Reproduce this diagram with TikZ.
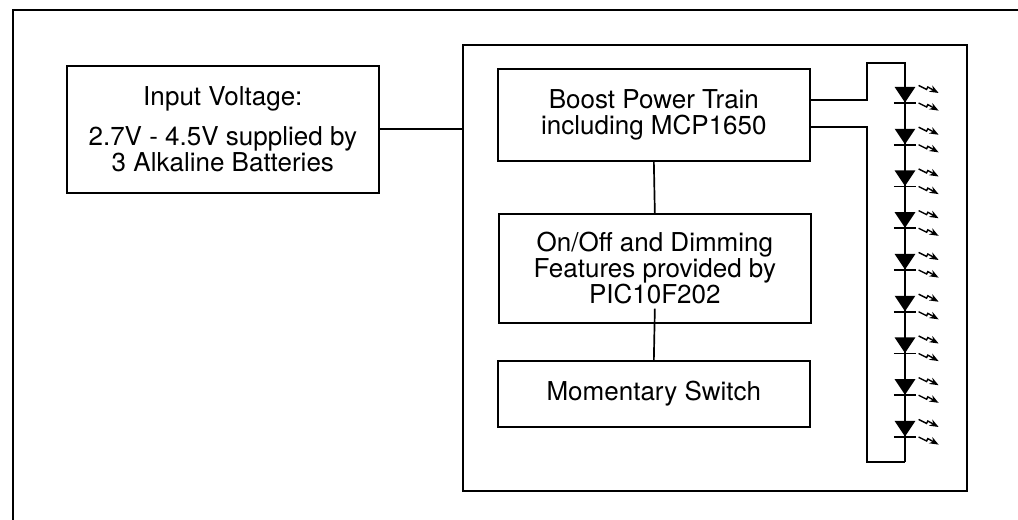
\documentclass[tikz,border=0pt]{standalone}
\usepackage{fontspec}
\setmainfont{TeX Gyre Heros}
\usetikzlibrary{positioning,arrows.meta}

\tikzset{
  block/.style={rectangle, draw, align=center, font=\fontsize{18.5}{18.5}\selectfont},
  led/.pic={
    \fill (-0.26,0) -- (0.26,0) -- (0,-0.39) -- cycle;
    \draw (-0.28,-0.4) -- (0.28,-0.4);
    \draw[line width=1pt, -{Stealth[length=6.5pt,width=5pt]}] (0.34,0.04) -- ++(0.2,-0.1) -- ++(0.03,0.06) -- ++(0.27,-0.15);
    \draw[line width=1pt, -{Stealth[length=6.5pt,width=5pt]}] (0.34,-0.4) -- ++(0.2,-0.1) -- ++(0.03,0.06) -- ++(0.27,-0.15);
  }
}

\begin{document}
\begin{tikzpicture}[line width=1.2pt]
\useasboundingbox (0,0) rectangle (25.45,-13);
\draw (0.325,-13) -- (0.325,-0.25) -- (25.45,-0.25);

\node (rectInput) [block, minimum width=78mm, minimum height=31.75mm, anchor=north west] at (1.65,-1.625) {Input Voltage:\\[10pt] 2.7V - 4.5V supplied by\\ 3 Alkaline Batteries};

\node (rectDriver) [rectangle, draw, minimum width=126mm, minimum height=111.5mm, anchor=north west] at (11.55,-1.1) {};

\node (rectBoost) [block, minimum width=78mm, minimum height=23mm, anchor=north west] at (12.425,-1.7) {Boost Power Train\\including MCP1650};
\node (rectDim) [block, minimum width=78mm, minimum height=27.25mm, anchor=north west] at (12.45,-5.325) {On/Off and Dimming\\Features provided by\\PIC10F202};
\node (rectSwitch) [block, minimum width=78mm, minimum height=16.5mm, anchor=north west] at (12.425,-9) {Momentary Switch};

\draw (rectInput.east) -- (rectInput.east -| rectDriver.west);
\draw (rectBoost.south) -- (rectDim.north);
\draw ([yshift=0.375cm]rectDim.south) -- (rectSwitch.north);

% LED string
\coordinate (ledtop) at (22.625,-1.575);
\coordinate (ledbot) at (22.625,-11.55);
\draw ([yshift=0.375cm]rectBoost.east) -- ++(1.4,0) |- (ledtop) -- (ledbot);
\draw ([yshift=-0.3cm]rectBoost.east) -- ++(1.4,0) |- (ledbot);

\pic at (22.625,-2.175) {led};
\pic at (22.625,-3.219) {led};
\pic at (22.625,-4.2625) {led};
\pic at (22.625,-5.306) {led};
\pic at (22.625,-6.35) {led};
\pic at (22.625,-7.394) {led};
\pic at (22.625,-8.4375) {led};
\pic at (22.625,-9.481) {led};
\pic at (22.625,-10.525) {led};
\end{tikzpicture}
\end{document}
